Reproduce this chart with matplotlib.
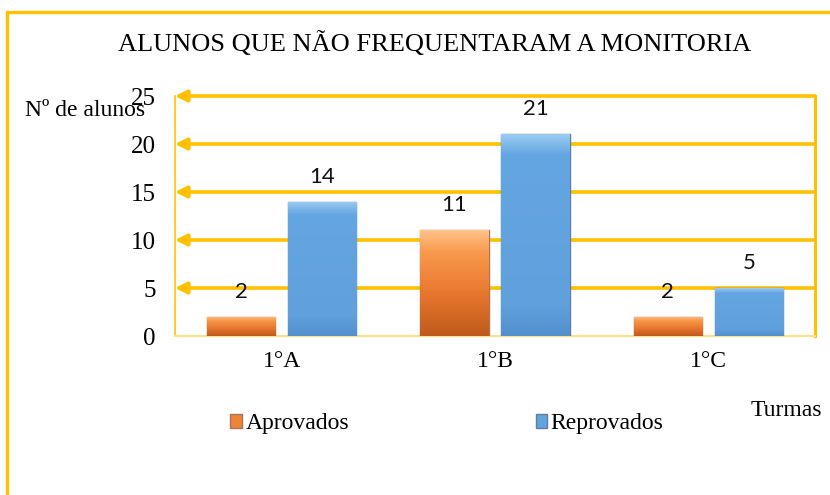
import matplotlib
matplotlib.use("Agg")
import matplotlib.pyplot as plt
from matplotlib.patches import Rectangle
from matplotlib.colors import LinearSegmentedColormap
import numpy as np

categories = ["1°A", "1°B", "1°C"]
aprovados = [2, 11, 2]
reprovados = [14, 21, 5]
yticks = [0, 5, 10, 15, 20, 25]
title = "ALUNOS QUE NÃO FREQUENTARAM A MONITORIA"

GOLD = "#FFC000"
serif = ["Liberation Serif", "DejaVu Serif"]
sans = ["Lato", "DejaVu Sans"]

fig = plt.figure(figsize=(8.3, 4.95), dpi=100)
ax = fig.add_axes([0.2108, 0.3212, 0.7711, 0.4848])

x = np.arange(len(categories))
w = 0.32
off = 0.19
b1 = ax.bar(x - off, aprovados, w, color="#EE8435", edgecolor="#A9745A", linewidth=1.0,
            label="Aprovados", zorder=3)
b2 = ax.bar(x + off, reprovados, w, color="#62A3E0", edgecolor="#5F7E9E", linewidth=1.0,
            label="Reprovados", zorder=3)

ax.set_xlim(-0.5, 2.5)
ax.set_ylim(0, 25)

# gradient fills clipped to the bars
cmap_o = LinearSegmentedColormap.from_list(
    "o", [(0, "#BF5A1C"), (0.4, "#E8772E"), (0.8, "#F99A4E"), (1, "#FFC48A")])
cmap_b = LinearSegmentedColormap.from_list(
    "b", [(0, "#5390CC"), (0.15, "#5FA0DD"), (0.9, "#64A6E2"), (1, "#9CCCF2")])
grad = np.linspace(0, 1, 256).reshape(-1, 1)
for bars, cmap in ((b1, cmap_o), (b2, cmap_b)):
    for r in bars:
        x0, y0 = r.get_x(), r.get_y()
        im = ax.imshow(grad, cmap=cmap, origin="lower", aspect="auto",
                       extent=(x0, x0 + r.get_width(), y0, y0 + r.get_height()),
                       zorder=3.5, interpolation="bilinear")
        im.set_clip_path(r)
ax.set_xlim(-0.5, 2.5)
ax.set_ylim(0, 25)

for bars, vals in ((b1, aprovados), (b2, reprovados)):
    for r, v in zip(bars, vals):
        ax.annotate(str(v), (r.get_x() + r.get_width() / 2, v), xytext=(0, 18),
                    textcoords="offset points", ha="center", va="center",
                    fontsize=16, family=sans, color="#111111", zorder=5)

ax.set_yticks(yticks)
ax.set_xticks(x)
ax.set_xticklabels(categories, family=serif, fontsize=17)
ax.set_yticklabels([str(t) for t in yticks], family=serif, fontsize=18)
ax.tick_params(length=0)
ax.tick_params(axis="y", pad=14)
ax.tick_params(axis="x", pad=11)

# gridlines with arrowheads at left
for t in yticks[1:]:
    ax.annotate("", xy=(-0.5, t), xytext=(2.5, t), xycoords="data",
                arrowprops=dict(arrowstyle="-|>,head_length=0.7,head_width=0.35",
                                color=GOLD, lw=2.6, shrinkA=0, shrinkB=0),
                zorder=1, annotation_clip=False)

ax.spines["top"].set_visible(False)
ax.spines["left"].set_color(GOLD)
ax.spines["left"].set_linewidth(1.2)
ax.spines["right"].set_color(GOLD)
ax.spines["right"].set_linewidth(2.2)
ax.spines["bottom"].set_color("#FFE08A")
ax.spines["bottom"].set_linewidth(1.5)

fig.text(0.524, 1 - 44 / 495, title, ha="center", va="center", family=serif, fontsize=19)
fig.text(25 / 830, 1 - 111 / 495, "Nº de alunos", ha="left", va="center", family=serif, fontsize=17)
fig.text(822 / 830, 1 - 411 / 495, "Turmas", ha="right", va="center", family=serif, fontsize=17)

fig.legend(handles=[b1, b2], labels=["Aprovados", "Reprovados"], ncol=2,
           loc="center left", bbox_to_anchor=(230 / 830, 1 - 424 / 495),
           frameon=False, prop={"family": serif, "size": 17},
           handlelength=0.5, handleheight=0.5, handletextpad=0.15,
           columnspacing=7.9, borderaxespad=0, borderpad=0)

# outer border
fig.patches.append(Rectangle((7 / 830, -0.2), 1.2, 1 - 12 / 495 + 0.2,
                             transform=fig.transFigure, fill=False,
                             edgecolor=GOLD, linewidth=2.4))

fig.savefig("out.png", dpi=100)
